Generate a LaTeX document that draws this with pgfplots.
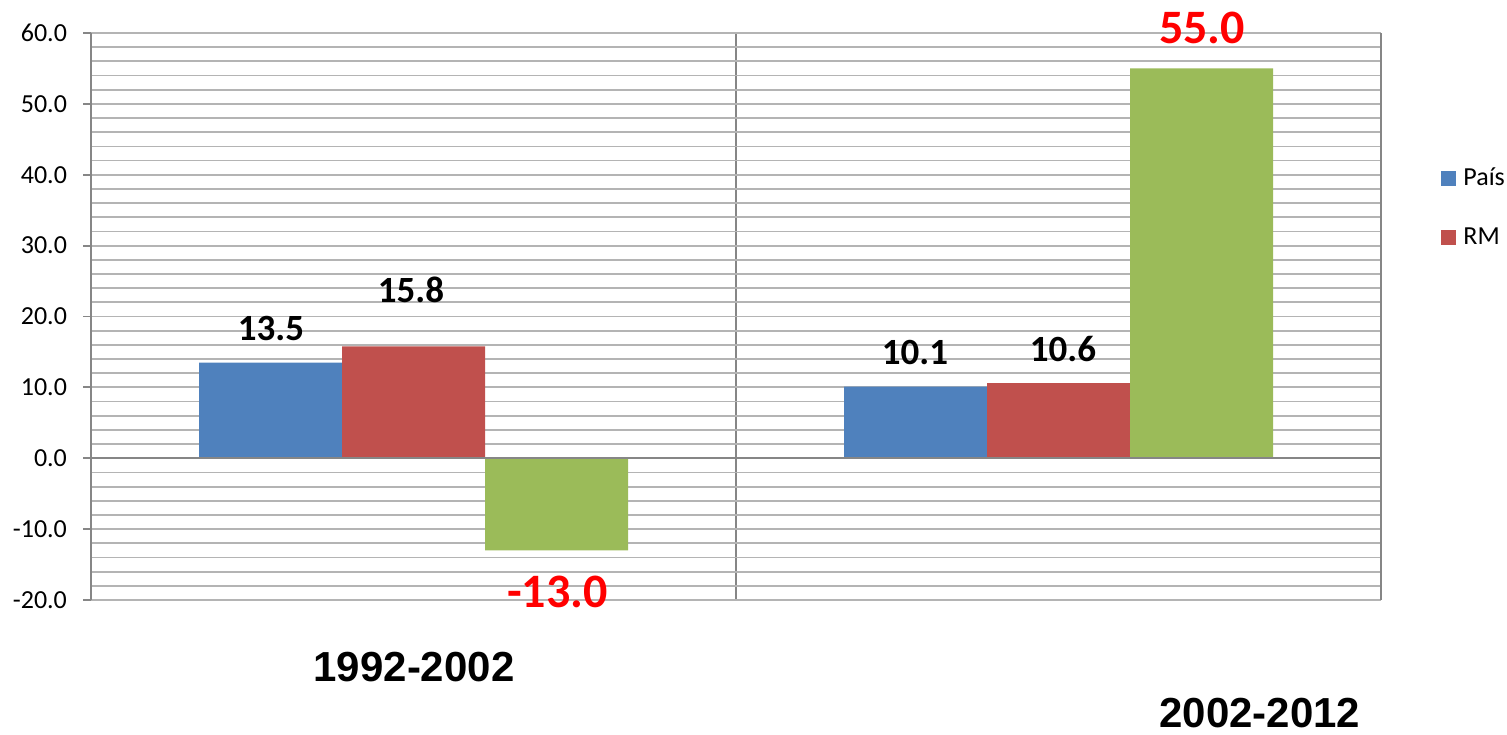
\documentclass[border=0pt]{standalone}
\usepackage{pgfplots}
\pgfplotsset{compat=1.18}
\usepackage{fontspec}
\setmainfont{Carlito}
\newfontfamily\arialf{Liberation Sans}
\definecolor{cblue}{HTML}{4F81BD}
\definecolor{cred}{HTML}{C0504D}
\definecolor{cgreen}{HTML}{9BBB59}
\definecolor{gridc}{HTML}{B4B4B4}
\definecolor{axc}{HTML}{868686}
\begin{document}
\begin{tikzpicture}
\begin{axis}[
  name=ax,
  scale only axis,
  width=645pt, height=283.5pt,
  xmin=0, xmax=2, ymin=-20, ymax=60,
  clip=false,
  axis y line*=left,
  axis x line*=middle,
  xtick={0,1,2}, xticklabels={},
  major x tick style={draw=none},
  xmajorgrids,
  ytick={-20,-10,...,60},
  minor y tick num=4,
  ymajorgrids, yminorgrids,
  major grid style={gridc, line width=0.9pt},
  minor grid style={gridc, line width=0.9pt},
  x grid style={axc, line width=0.9pt},
  axis line style={axc, line width=1pt},
  tick align=outside,
  major tick length=4pt, minor tick length=0pt,
  ytick style={axc, line width=0.9pt},
  yticklabel style={font=\fontsize{13}{15}\selectfont, xshift=-4.5pt},
  /pgf/number format/.cd, fixed, fixed zerofill, precision=1, assume math mode=true,
  /pgfplots/.cd,
  ybar, bar width=0.2217, bar shift=0pt,
  legend style={at={(1.0465,0.692)}, anchor=west, draw=none, fill=none,
    font=\fontsize{13}{15}\selectfont, row sep=19.5pt, inner sep=0pt,
    nodes={inner xsep=3.5pt, inner ysep=0pt}},
  legend cell align=left,
  legend image code/.code={\fill[#1] (0pt,-3.75pt) rectangle (7.5pt,3.75pt);},
]
\addplot[fill=cblue, draw=none] coordinates {(0.2783,13.5) (1.2783,10.1)};
\addlegendentry{País}
\addplot[fill=cred, draw=none] coordinates {(0.5,15.8) (1.5,10.6)};
\addlegendentry{RM}
\addplot[fill=cgreen, draw=none, forget plot] coordinates {(0.7217,-13.0) (1.7217,55.0)};
\draw[axc, line width=1pt] (axis cs:0,0) -- (axis cs:2,0);
\draw[axc, line width=0.9pt] (axis cs:2,-20) -- (axis cs:2,60);
\begin{scope}[every node/.style={font=\fontsize{18.5}{22}\selectfont\bfseries, inner sep=0pt}]
\node at (axis cs:0.279,18.24) {13.5};
\node at (axis cs:0.496,23.74) {15.8};
\node at (axis cs:1.2775,14.92) {10.1};
\node at (axis cs:1.507,15.41) {10.6};
\end{scope}
\begin{scope}[every node/.style={font=\fontsize{24}{28}\selectfont\bfseries, text=red, inner sep=0pt}]
\node at (axis cs:0.723,-18.87) {-13.0};
\node at (axis cs:1.7225,60.7) {55.0};
\end{scope}
\begin{scope}[every node/.style={font=\arialf\fontsize{21}{25}\selectfont\bfseries, inner sep=0pt}]
\node at (axis cs:0.5008,-29.5) {1992-2002};
\node at (axis cs:1.812,-35.9) {2002-2012};
\end{scope}
\end{axis}
\pgfresetboundingbox
\useasboundingbox ([shift={(-45.5pt,-67pt)}]ax.south west) rectangle ([shift={(708pt,300pt)}]ax.south west);
\end{tikzpicture}
\end{document}
